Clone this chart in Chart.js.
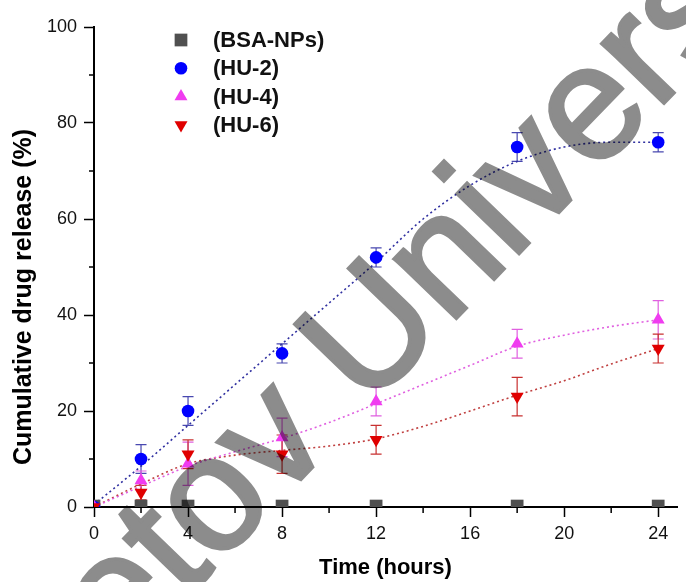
<!DOCTYPE html>
<html>
<head>
<meta charset="utf-8">
<script src="https://cdn.jsdelivr.net/npm/chart.js"></script>
<style>
  html, body { margin: 0; padding: 0; background: #fff; }
  #wrap { width: 686px; height: 582px; }
</style>
</head>
<body>
<div id="wrap"><canvas id="releaseChart" width="686" height="582"></canvas></div>
<script>
// measured points (hours / % released)
const timeHours = [0, 2, 4, 8, 12, 18, 24];
const bsaNps = [0.2, 0.2, 0.2, 0.2, 0.2, 0.2, 0.2];
const hu2 = [0, 10, 20, 32, 52, 75, 76];
const hu2Err = [0, 3, 3, 2, 2, 3, 2];
const hu4 = [0, 5.5, 9, 14.5, 22, 34, 39];
const hu4Err = [0, 2, 4.5, 4, 3, 3, 4];
const hu6 = [0, 3, 11, 11, 14, 23, 33];
const hu6Err = [0, 1.5, 3, 4, 3, 4, 3];

// dotted fit curves
const fitHours = [0, 2, 4, 6, 8, 10, 12, 14, 16, 18, 20, 22, 24];
const hu2Fit = [0.5, 8.5, 17, 25.5, 34, 42.5, 51, 60, 67, 72, 75, 76, 76];
const hu4Fit = [0, 4.3, 8.5, 11.5, 14.3, 17.6, 21.5, 25.5, 29.5, 33.5, 35.8, 37.6, 39];
const hu6Fit = [0, 4.8, 9, 10.8, 11.8, 12.7, 14.2, 16.8, 20, 23.3, 26.3, 29.8, 33];

const xTicks = [0, 4, 8, 12, 16, 20, 24];
const xMinor = [2, 6, 10, 14, 18, 22];
const yTicks = [0, 20, 40, 60, 80, 100];
const yMinor = [10, 30, 50, 70, 90];

const yTitle = 'Cumulative drug release (%)';
const xTitle = 'Time (hours)';

const FONT = '"Liberation Sans", Arial, sans-serif';
Chart.defaults.font.family = FONT;
Chart.defaults.color = '#111';

const pts = (xs, ys) => xs.map((x, i) => ({ x: x, y: ys[i] }));

function fitLine(label, ys, color) {
    return {
        label: label,
        data: pts(fitHours, ys),
        showLine: true,
        borderColor: color,
        borderWidth: 1.6,
        borderDash: [2, 3],
        pointRadius: 0,
        cubicInterpolationMode: 'monotone',
        fill: false,
        clip: 0,
        order: 10
    };
}

function markers(label, ys, errs, color, barColor, style, radius, rotation, order) {
    return {
        label: label,
        data: pts(timeHours, ys),
        errors: errs,
        barColor: barColor,
        showLine: false,
        pointStyle: style,
        pointRadius: radius,
        pointRotation: rotation,
        pointBackgroundColor: color,
        pointBorderWidth: 0,
        backgroundColor: color,
        borderColor: color,
        clip: 0,
        order: order,
        inLegend: true
    };
}

// error bars drawn under the markers
const errorBars = {
    id: 'errorBars',
    beforeDatasetsDraw(chart) {
        const ctx = chart.ctx;
        const y = chart.scales.y;
        const area = chart.chartArea;
        ctx.save();
        ctx.beginPath();
        ctx.rect(area.left, area.top, area.right - area.left, area.bottom - area.top);
        ctx.clip();
        chart.data.datasets.forEach((ds, i) => {
            if (!ds.errors) return;
            const meta = chart.getDatasetMeta(i);
            ctx.strokeStyle = ds.barColor;
            ctx.lineWidth = 1.2;
            meta.data.forEach((el, j) => {
                const e = ds.errors[j];
                if (!e) return;
                const v = ds.data[j].y;
                const top = y.getPixelForValue(v + e);
                const bot = y.getPixelForValue(v - e);
                ctx.beginPath();
                ctx.moveTo(el.x, top); ctx.lineTo(el.x, bot);
                ctx.moveTo(el.x - 5.5, top); ctx.lineTo(el.x + 5.5, top);
                ctx.moveTo(el.x - 5.5, bot); ctx.lineTo(el.x + 5.5, bot);
                ctx.stroke();
            });
        });
        ctx.restore();
    }
};

// minor ticks, half length, outward; plus the y title placed a bit low like the original
const axisExtras = {
    id: 'axisExtras',
    afterDraw(chart) {
        const ctx = chart.ctx;
        const { x, y } = chart.scales;
        const area = chart.chartArea;
        ctx.save();
        ctx.strokeStyle = '#000';
        ctx.lineWidth = 1.5;
        ctx.beginPath();
        xMinor.forEach(v => {
            const px = x.getPixelForValue(v);
            ctx.moveTo(px, area.bottom); ctx.lineTo(px, area.bottom + 6);
        });
        yMinor.forEach(v => {
            const py = y.getPixelForValue(v);
            ctx.moveTo(area.left, py); ctx.lineTo(area.left - 5, py);
        });
        ctx.stroke();

        ctx.translate(24, 297);
        ctx.rotate(-Math.PI / 2);
        ctx.fillStyle = '#000';
        ctx.font = 'bold 25px ' + FONT;
        ctx.textAlign = 'center';
        ctx.textBaseline = 'middle';
        ctx.fillText(yTitle, 0, 0);
        ctx.restore();
    }
};

// legend as a column of marker + label at top left
const markerLegend = {
    id: 'markerLegend',
    afterDraw(chart) {
        const ctx = chart.ctx;
        ctx.save();
        let row = 0;
        chart.data.datasets.forEach(ds => {
            if (!ds.inLegend) return;
            const cy = 40 + row * 28.3;
            ctx.fillStyle = ds.pointBackgroundColor;
            Chart.helpers.drawPoint(ctx, {
                pointStyle: ds.pointStyle,
                radius: ds.pointRadius,
                rotation: ds.pointRotation,
                borderWidth: 0
            }, 181, cy);
            ctx.fillStyle = '#111';
            ctx.font = 'bold 22px ' + FONT;
            ctx.textBaseline = 'middle';
            ctx.fillText(ds.label, 213, cy + 1);
            row++;
        });
        ctx.restore();
    }
};

// the grey diagonal watermark, multiplied over the figure
const watermark = {
    id: 'watermark',
    afterDraw(chart) {
        const ctx = chart.ctx;
        const off = document.createElement('canvas');
        off.width = chart.width;
        off.height = chart.height;
        const o = off.getContext('2d');
        const ang = -46 * Math.PI / 180;
        const fs = 163;
        o.fillStyle = '#fff';
        o.fillRect(0, 0, off.width, off.height);
        o.font = fs + 'px ' + FONT;
        // anchor: baseline point under the middle of the first "v"
        const pre = o.measureText('eto').width + o.measureText('v').width / 2;
        o.translate(307 - Math.cos(ang) * pre, 473 - Math.sin(ang) * pre);
        o.rotate(ang);
        o.fillStyle = '#8c8c8c';
        o.strokeStyle = '#8c8c8c';
        o.lineWidth = 3.5;
        o.lineJoin = 'miter';
        o.textBaseline = 'alphabetic';
        o.fillText('etov University', 0, 0);
        o.strokeText('etov University', 0, 0);
        ctx.save();
        ctx.globalCompositeOperation = 'multiply';
        ctx.drawImage(off, 0, 0);
        ctx.restore();
    }
};

new Chart(document.getElementById('releaseChart'), {
    type: 'scatter',
    data: {
        datasets: [
            markers('(BSA-NPs)', bsaNps, null, '#505050', '#505050', 'rect', 9, 0, 4),
            markers('(HU-2)', hu2, hu2Err, '#0000ff', '#4848b0', 'circle', 6.3, 0, 3),
            markers('(HU-4)', hu4, hu4Err, '#f03cf0', '#e060e0', 'triangle', 7.5, 0, 2),
            markers('(HU-6)', hu6, hu6Err, '#e00000', '#c83030', 'triangle', 7.5, 180, 1),
            fitLine('HU-2 fit', hu2Fit, '#3030a0'),
            fitLine('HU-4 fit', hu4Fit, '#e060e0'),
            fitLine('HU-6 fit', hu6Fit, '#c04040')
        ]
    },
    options: {
        responsive: false,
        animation: false,
        layout: { padding: { top: 27, right: 0, left: 0, bottom: 0 } },
        plugins: {
            legend: { display: false },
            tooltip: { enabled: false }
        },
        scales: {
            x: {
                type: 'linear',
                min: 0,
                max: 24.8,
                afterBuildTicks: s => { s.ticks = xTicks.map(v => ({ value: v })); },
                afterFit: s => { s.height = 75; s.paddingRight = 0; s.paddingLeft = 0; },
                ticks: { font: { size: 18 }, color: '#111', padding: 6, maxRotation: 0 },
                grid: { drawOnChartArea: false, tickLength: 10, tickColor: '#000', tickWidth: 1.5 },
                border: { color: '#000', width: 2 },
                title: {
                    display: true,
                    text: xTitle,
                    color: '#000',
                    font: { size: 22, weight: 'bold' },
                    padding: { top: 0, bottom: 1 }
                }
            },
            y: {
                type: 'linear',
                min: 0,
                max: 100,
                afterBuildTicks: s => { s.ticks = yTicks.map(v => ({ value: v })); },
                afterFit: s => { s.width = 94; },
                ticks: { font: { size: 18 }, color: '#111', padding: 7 },
                grid: { drawOnChartArea: false, tickLength: 10, tickColor: '#000', tickWidth: 1.5 },
                border: { color: '#000', width: 2 }
            }
        }
    },
    plugins: [errorBars, axisExtras, markerLegend, watermark]
});
</script>
</body>
</html>
